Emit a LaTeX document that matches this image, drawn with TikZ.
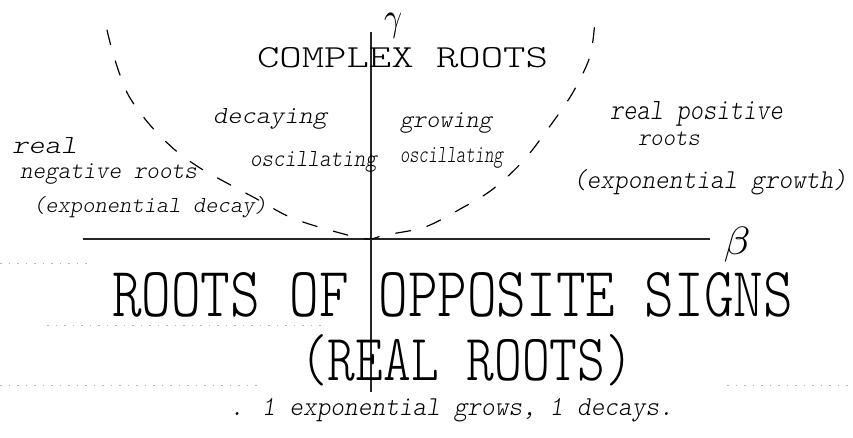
\documentclass[tikz,border=0pt]{standalone}
\usepackage{graphicx}
\usepackage{fontspec}
% thin, even-stroked lettering: Latin Modern Mono Light
\newcommand\capsfont{\ttfamily\fontseries{l}\selectfont}
\newcommand\notefont{\ttfamily\fontseries{l}\fontshape{sl}\selectfont}
% text boxes stretched to a given width and height (in pt)
\newcommand\capsfit[3]{\resizebox{#1pt}{#2pt}{\capsfont #3}}
\newcommand\notefit[3]{\resizebox{#1pt}{#2pt}{\notefont\vphantom{l}#3}}
\tikzset{
  txt/.style={anchor=base west, inner sep=0pt, outer sep=0pt},
  axisline/.style={line width=1.6pt, black!85},
  boundary/.style={line width=1.2pt, black, dash pattern=on 15pt off 17pt, line cap=round},
  ruling/.style={line width=0.8pt, black!30, dash pattern=on 1.5pt off 7pt},
}
\begin{document}
\begin{tikzpicture}[x=1pt,y=-1pt]
  \fill[white] (0,0) rectangle (853,437);
  \useasboundingbox (0,0) rectangle (853,437);

  % faint ruling of the paper
  \draw[ruling] (0,263) -- (90,263);
  \draw[ruling] (47,325) -- (323,325);
  \draw[ruling] (0,385) -- (257,385);
  \draw[ruling] (727,385) -- (850,385);

  % axes
  \coordinate (bl) at (83,239);
  \coordinate (br) at (710,239);
  \coordinate (gt) at (371,32);
  \coordinate (gb) at (371,392);
  \draw[axisline] (bl) -- (br);
  \draw[axisline, line width=1.4pt] (gt) -- (gb);
  \node[inner sep=0pt] (gamma) at (393,26) {\resizebox*{18pt}{25pt}{$\gamma$}};
  \node[inner sep=0pt] (beta) at (737,245) {\resizebox*{27pt}{35pt}{$\beta$}};

  % boundary between complex and real roots
  \draw[boundary] plot[smooth, tension=0.55] coordinates {
    (107,30) (112,50) (120,75) (130,98) (150,125) (175,150) (200,168)
    (225,182) (255,198) (292,218) (340,233) (368,239) (385,235) (425,227)
    (462,208) (493,189) (524,160) (550,126) (572,94) (588,62) (593,40) (595,18)};

  % region labels
  \node[txt] (complex) at (257,67) {\capsfit{291}{20}{COMPLEX ROOTS}};
  \node[txt] (decay1) at (213,123) {\notefit{114}{15}{decaying}};
  \node[txt] (osc1) at (250,166) {\notefit{127}{15}{oscillating}};
  \node[txt] (grow1) at (400,127) {\notefit{92}{15}{growing}};
  \node[txt] (osc2) at (400,162) {\notefit{103}{15}{oscillating}};

  \node[txt] (real1) at (12,153) {\notefit{65}{16}{real}};
  \node[txt] (neg) at (20,178) {\notefit{177}{15}{negative roots}};
  \node[txt] (expdec) at (33,212) {\notefit{234}{16}{(exponential decay)}};

  \node[txt] (real2) at (610,119) {\notefit{173}{18}{real positive}};
  \node[txt] (roots2) at (638,145) {\notefit{62}{15}{roots}};
  \node[txt] (expgro) at (573,188) {\notefit{274}{19}{(exponential growth)}};

  \node[txt] (opp) at (112,316) {\capsfit{681}{44}{ROOTS OF OPPOSITE SIGNS}};
  \node[txt] (realroots) at (300,380) {\capsfit{333}{46}{(REAL ROOTS)}};
  \node[txt] (note) at (230,415) {\notefit{443}{17}{. 1 exponential grows, 1 decays.}};
\end{tikzpicture}
\end{document}
